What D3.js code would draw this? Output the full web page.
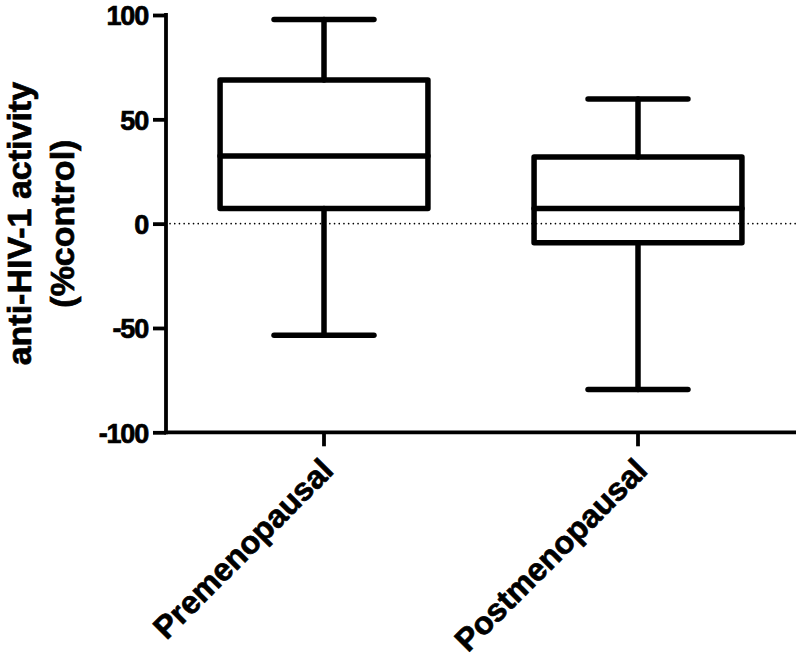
<!DOCTYPE html>
<html>
    <head>
        <meta charset="utf-8">
        <title>anti-HIV-1 activity</title>
        <script src="https://cdn.jsdelivr.net/npm/d3@7/dist/d3.min.js"></script>
        <style>
            body { margin: 0; background: #fff; }
            text { font-family: "Liberation Sans", Arial, sans-serif; font-weight: bold; fill: #000;
                   stroke: #000; stroke-width: 0.7px; }
        </style>
    </head>

    <body>
        <svg id="canvas" width="800" height="658"></svg>

        <script>
            // data
            var categories = ["Premenopausal", "Postmenopausal"];
            var whiskerLow = [-53.5, -79.5];
            var q1 = [7.3, -9.2];
            var median = [32.4, 7.3];
            var q3 = [68.8, 32.0];
            var whiskerHigh = [97.9, 59.7];
            var yTicks = [-100, -50, 0, 50, 100];

            var svg = d3.select("#canvas");

            var plot = {left: 166, right: 796, top: 15, bottom: 432.3};

            var x = d3.scaleBand()
                .domain(categories)
                .range([plot.left + 1, plot.right - 1])
                .paddingInner(0.338)
                .paddingOuter(0.169);

            var y = d3.scaleLinear()
                .domain([-100, 100])
                .range([plot.bottom, plot.top]);

            var g = svg.append("g");

            // dotted zero line
            g.append("line")
                .attr("x1", plot.left + 4)
                .attr("x2", plot.right)
                .attr("y1", y(0))
                .attr("y2", y(0))
                .attr("stroke", "#000")
                .attr("stroke-width", 1.6)
                .attr("stroke-linecap", "round")
                .attr("stroke-dasharray", "0.1,4.6");

            var boxes = g.selectAll(".box")
                .data(categories)
                .enter().append("g")
                .attr("class", "box");

            function cx(d) { return x(d) + x.bandwidth() / 2; }
            var capHalf = x.bandwidth() / 4 - 2;

            // whiskers
            boxes.append("line")
                .attr("x1", cx).attr("x2", cx)
                .attr("y1", function(d, i){ return y(whiskerHigh[i]); })
                .attr("y2", function(d, i){ return y(q3[i]); });
            boxes.append("line")
                .attr("x1", cx).attr("x2", cx)
                .attr("y1", function(d, i){ return y(q1[i]); })
                .attr("y2", function(d, i){ return y(whiskerLow[i]); });

            // caps
            boxes.append("line")
                .attr("x1", function(d){ return cx(d) - capHalf; })
                .attr("x2", function(d){ return cx(d) + capHalf; })
                .attr("y1", function(d, i){ return y(whiskerHigh[i]); })
                .attr("y2", function(d, i){ return y(whiskerHigh[i]); });
            boxes.append("line")
                .attr("x1", function(d){ return cx(d) - capHalf; })
                .attr("x2", function(d){ return cx(d) + capHalf; })
                .attr("y1", function(d, i){ return y(whiskerLow[i]); })
                .attr("y2", function(d, i){ return y(whiskerLow[i]); });

            // box
            boxes.append("rect")
                .attr("x", function(d){ return x(d); })
                .attr("width", x.bandwidth())
                .attr("y", function(d, i){ return y(q3[i]); })
                .attr("height", function(d, i){ return y(q1[i]) - y(q3[i]); })
                .attr("fill", "none");

            // median
            boxes.append("line")
                .attr("x1", function(d){ return x(d); })
                .attr("x2", function(d){ return x(d) + x.bandwidth(); })
                .attr("y1", function(d, i){ return y(median[i]); })
                .attr("y2", function(d, i){ return y(median[i]); });

            boxes.selectAll("line, rect")
                .attr("stroke", "#000")
                .attr("stroke-width", 5.5)
                .attr("stroke-linecap", "round")
                .attr("stroke-linejoin", "round");

            // axes
            var yAxis = g.append("g")
                .attr("transform", "translate(" + plot.left + ",0)")
                .call(d3.axisLeft(y).tickValues(yTicks).tickSize(13).tickPadding(5).tickSizeOuter(0)
                    .tickFormat(function(d){ return String(d); }));

            var xAxis = g.append("g")
                .attr("transform", "translate(0," + plot.bottom + ")")
                .call(d3.axisBottom(x).tickSize(14).tickSizeOuter(0).tickFormat(""));

            xAxis.select(".domain").attr("d", "M" + (plot.left - 2) + ",0H" + plot.right);
            yAxis.select(".domain").attr("d", "M0," + (plot.top - 2) + "V" + (plot.bottom + 2));

            g.selectAll(".domain, .tick line")
                .attr("stroke", "#000")
                .attr("stroke-width", 3.8);

            yAxis.selectAll(".tick text")
                .attr("font-size", 27)
                .attr("dy", "0.36em")
                .style("letter-spacing", "-1.2px");

            // rotated category labels
            xAxis.selectAll(".tick").append("text")
                .attr("text-anchor", "end")
                .attr("font-size", 32)
                .attr("transform", "translate(11,40) rotate(-45)")
                .text(function(d){ return d; });

            // y title
            var yTitle = svg.append("text")
                .attr("text-anchor", "middle")
                .attr("font-size", 34)
                .attr("transform", "translate(31," + y(0) + ") rotate(-90)");
            yTitle.append("tspan").attr("x", 0).attr("dy", 0).text("anti-HIV-1 activity");
            yTitle.append("tspan").attr("x", 0).attr("dy", 43).text("(%control)");
        </script>
    </body>
</html>
